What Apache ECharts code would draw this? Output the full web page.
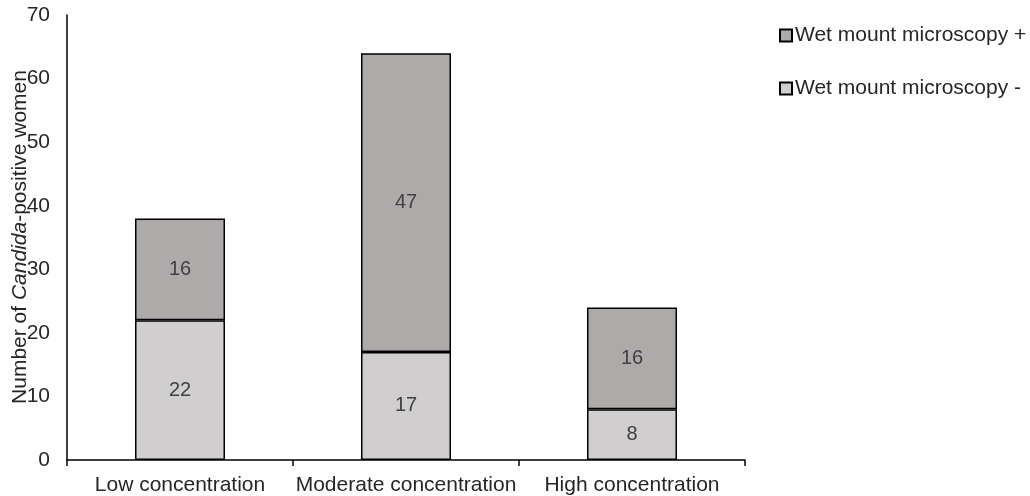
<!DOCTYPE html>
<html>
<head>
<meta charset="utf-8">
<script src="https://cdn.jsdelivr.net/npm/echarts@6/dist/echarts.min.js"></script>
<style>
  html, body { margin: 0; padding: 0; background: #fff; }
  #chart { width: 1030px; height: 496px; }
</style>
</head>
<body>
<div id="chart"></div>
<script>
// Candida-positive women by concentration group, split by wet mount result
const categories = ['Low concentration', 'Moderate concentration', 'High concentration'];
const wetMountNegative = [22, 17, 8];
const wetMountPositive = [16, 47, 16];
const yTicks = { min: 0, max: 70, interval: 10 };

const FONT = 'Liberation Sans, Arial, sans-serif';
const chart = echarts.init(document.getElementById('chart'));

chart.setOption({
  animation: false,
  backgroundColor: '#ffffff',
  grid: { left: 67, right: 285, top: 15, bottom: 36, containLabel: false },
  legend: {
    orient: 'vertical',
    left: 779,
    top: 25,
    padding: 0,
    itemWidth: 12,
    itemHeight: 12,
    itemGap: 32,
    icon: 'rect',
    selectedMode: false,
    textStyle: { fontFamily: FONT, fontSize: 21, color: '#262626', padding: [0, 0, 0, -2] },
    data: ['Wet mount microscopy +', 'Wet mount microscopy -']
  },
  xAxis: {
    type: 'category',
    data: categories,
    axisLine: { lineStyle: { color: '#000', width: 1.5 } },
    axisTick: { show: true, length: 6, lineStyle: { color: '#000', width: 1.5 } },
    axisLabel: { fontFamily: FONT, fontSize: 21, color: '#262626', margin: 15, interval: 0 }
  },
  yAxis: {
    type: 'value',
    min: yTicks.min,
    max: yTicks.max,
    interval: yTicks.interval,
    axisLine: { show: true, lineStyle: { color: '#000', width: 1.5 } },
    axisTick: { show: false },
    splitLine: { show: false },
    axisLabel: { fontFamily: FONT, fontSize: 21, color: '#262626', margin: 17 }
  },
  graphic: [{
    type: 'text',
    x: 20,
    y: 237,
    rotation: Math.PI / 2,
    style: {
      text: '{a|Number of }{b|Candida}{a|-positive women}',
      align: 'center',
      verticalAlign: 'middle',
      rich: {
        a: { fontFamily: FONT, fontSize: 21, fill: '#262626' },
        b: { fontFamily: FONT, fontSize: 21, fontStyle: 'italic', fill: '#262626' }
      }
    }
  }],
  series: [
    {
      name: 'Wet mount microscopy -',
      type: 'bar',
      stack: 'total',
      barWidth: 90,
      data: wetMountNegative,
      itemStyle: { color: '#d0cecf', borderColor: '#000', borderWidth: 1.5 },
      label: { show: true, position: 'inside', fontFamily: FONT, fontSize: 20, color: '#404040' }
    },
    {
      name: 'Wet mount microscopy +',
      type: 'bar',
      stack: 'total',
      barWidth: 90,
      data: wetMountPositive,
      itemStyle: { color: '#aeaaaa', borderColor: '#000', borderWidth: 1.5 },
      label: { show: true, position: 'inside', fontFamily: FONT, fontSize: 20, color: '#404040' }
    }
  ]
});
</script>
</body>
</html>
